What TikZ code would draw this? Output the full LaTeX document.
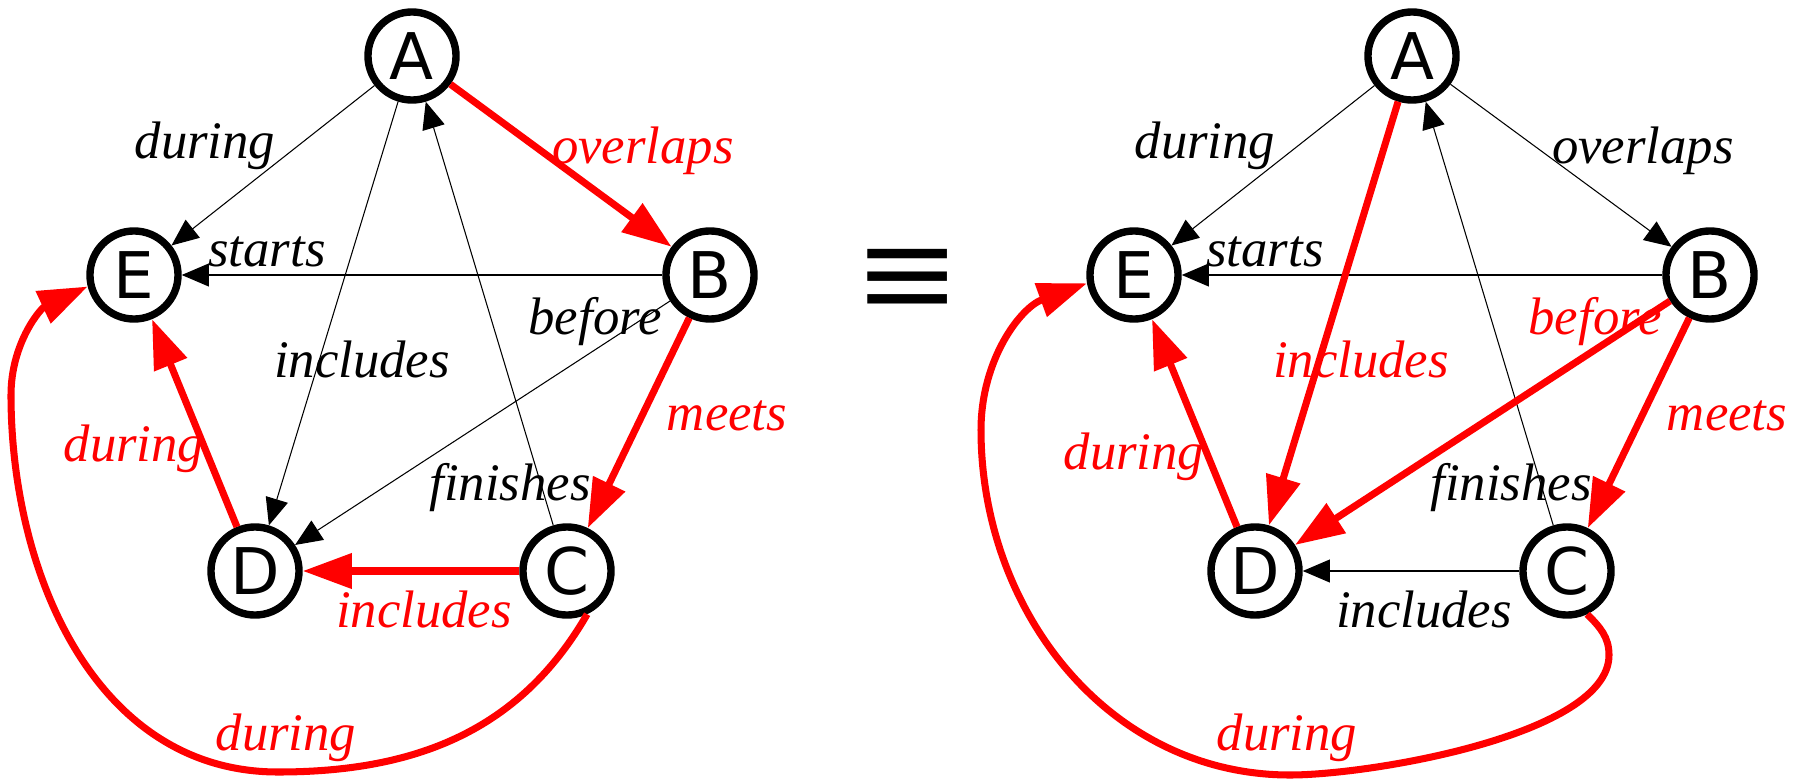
\documentclass[tikz,border=0pt]{standalone}
\usepackage{fontspec}
\setmainfont{Liberation Serif}
\newfontfamily\statefont{DejaVu Sans}
\newfontfamily\eqfont{Liberation Mono}
\usepackage{tikz}
\usetikzlibrary{arrows.meta}
\tikzset{
  state/.style={circle, draw=black, line width=2.1pt, minimum size=0.88cm, inner sep=0pt,
                font=\statefont\fontsize{18.3}{18.3}\selectfont},
  rel/.style={-{Triangle[length=7.7pt, width=6.5pt]}, line width=0.3pt, draw=black},
  redrel/.style={-{Triangle[length=14pt, width=9.7pt]}, line width=2pt, draw=red},
  lbl/.style={font=\itshape\fontsize{15}{15}\selectfont, inner sep=0pt},
  redlbl/.style={lbl, text=red},
}

\begin{document}
\begin{tikzpicture}[x=0.01cm, y=0.01cm]
  \useasboundingbox (0,0) rectangle (1797,-779);

  % left network
  \node[state] (lA) at (412,-56)  {A};
  \node[state] (lB) at (710,-275) {B};
  \node[state] (lC) at (567,-571) {C};
  \node[state] (lD) at (255,-571) {D};
  \node[state] (lE) at (134,-275) {E};
  \coordinate (lbot)  at (278,-772);
  \coordinate (lside) at (11,-395);

  \draw[rel] (lA) -- (lE);
  \draw[rel] (lA) -- (lD);
  \draw[rel] (lC) -- (lA);
  \draw[rel] (lB) -- (lE);
  \draw[rel] (lB) -- (lD);
  \draw[redrel] (lA) -- (lB);
  \draw[redrel] (lB) -- (lC);
  \draw[redrel] (lC) -- (lD);
  \draw[redrel] (lD) -- (lE);
  \draw[redrel] (lC.-65) to[out=-120, in=0] (lbot) to[out=180, in=-90] (lside)
        to[out=90, in=-155] (lE.194);

  \node[lbl]    (ldurAE)    at (205,-146) {during};
  \node[redlbl] (loverAB)   at (643,-151) {overlaps};
  \node[lbl]    (lstartsBE) at (267,-252) {starts};
  \node[lbl]    (lbeforeBD) at (595,-322) {before};
  \node[lbl]    (linclAD)   at (362,-360) {includes};
  \node[redlbl] (lmeetsBC)  at (727,-416) {meets};
  \node[redlbl] (ldurDE)    at (134,-449) {during};
  \node[lbl]    (lfinCA)    at (510,-488) {finishes};
  \node[redlbl] (linclCD)   at (424,-610) {includes};
  \node[redlbl] (ldurCE)    at (286,-738) {during};

  % equivalence sign
  \node[font=\eqfont\fontsize{37}{37}\selectfont, inner sep=0pt] (equiv) at (908,-284)
        {\scalebox{1.26}[1]{≡}};

  % right network
  \node[state] (rA) at (1412,-56)  {A};
  \node[state] (rB) at (1710,-275) {B};
  \node[state] (rC) at (1567,-571) {C};
  \node[state] (rD) at (1255,-571) {D};
  \node[state] (rE) at (1134,-275) {E};
  \coordinate (rhook) at (1609,-655);
  \coordinate (rbot)  at (1290,-775);
  \coordinate (rside) at (981,-430);

  \draw[rel] (rA) -- (rE);
  \draw[rel] (rA) -- (rB);
  \draw[rel] (rC) -- (rA);
  \draw[rel] (rB) -- (rE);
  \draw[rel] (rC) -- (rD);
  \draw[redrel] (rA) -- (rD);
  \draw[redrel] (rB) -- (rD);
  \draw[redrel] (rB) -- (rC);
  \draw[redrel] (rD) -- (rE);
  \draw[redrel] (rC.-65) to[out=-45, in=90] (rhook) to[out=-90, in=0, looseness=0.6] (rbot)
        to[out=180, in=-90] (rside) to[out=90, in=-160] (rE.190);

  \node[lbl]    (rdurAE)    at (1205,-146) {during};
  \node[lbl]    (roverAB)   at (1643,-151) {overlaps};
  \node[lbl]    (rstartsBE) at (1265,-252) {starts};
  \node[redlbl] (rbeforeBD) at (1595,-322) {before};
  \node[redlbl] (rinclAD)   at (1361,-360) {includes};
  \node[redlbl] (rmeetsBC)  at (1727,-416) {meets};
  \node[redlbl] (rdurDE)    at (1134,-457) {during};
  \node[lbl]    (rfinCA)    at (1511,-488) {finishes};
  \node[lbl]    (rinclCD)   at (1424,-610) {includes};
  \node[redlbl] (rdurCE)    at (1287,-738) {during};
\end{tikzpicture}
\end{document}
